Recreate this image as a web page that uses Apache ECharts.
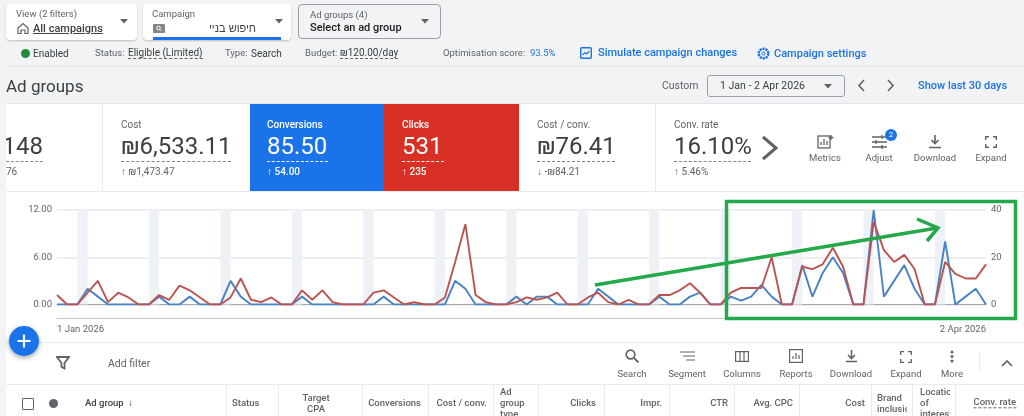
<!DOCTYPE html>
<html><head><meta charset="utf-8">
<style>
html,body{margin:0;padding:0;width:1024px;height:416px;overflow:hidden;background:#f1f3f4;font-family:Roboto,"Noto Sans",sans-serif;color:#3c4043}
.p{position:absolute}
.p svg{display:block}
.t{position:absolute;white-space:nowrap;transform:translateY(-50%);line-height:1.1}
#ui{position:absolute;left:0;top:0;width:1024px;height:416px;overflow:hidden;filter:blur(.35px)}
#chart{position:absolute;left:0;top:0;width:1024px;height:416px;filter:blur(.3px)}
</style></head><body>
<div id="ui"></div>
<div id="chart"></div>
<div id="fab" class="p" style="left:9px;top:326px;width:30px;height:30px;border-radius:50%;background:#1a73e8;box-shadow:0 2px 5px rgba(0,0,0,.35)">
<svg width="30" height="30"><path d="M15 8.5v13M8.5 15h13" stroke="#fff" stroke-width="2.2"/></svg></div>
<script src="https://cdn.jsdelivr.net/npm/echarts@6/dist/echarts.min.js"></script>
<script>
const categories = [
'1 Jan 2026','2 Jan 2026','3 Jan 2026','4 Jan 2026','5 Jan 2026','6 Jan 2026','7 Jan 2026','8 Jan 2026','9 Jan 2026','10 Jan 2026','11 Jan 2026','12 Jan 2026','13 Jan 2026','14 Jan 2026','15 Jan 2026','16 Jan 2026','17 Jan 2026','18 Jan 2026','19 Jan 2026','20 Jan 2026','21 Jan 2026','22 Jan 2026','23 Jan 2026','24 Jan 2026','25 Jan 2026','26 Jan 2026','27 Jan 2026','28 Jan 2026','29 Jan 2026','30 Jan 2026','31 Jan 2026',
'1 Feb 2026','2 Feb 2026','3 Feb 2026','4 Feb 2026','5 Feb 2026','6 Feb 2026','7 Feb 2026','8 Feb 2026','9 Feb 2026','10 Feb 2026','11 Feb 2026','12 Feb 2026','13 Feb 2026','14 Feb 2026','15 Feb 2026','16 Feb 2026','17 Feb 2026','18 Feb 2026','19 Feb 2026','20 Feb 2026','21 Feb 2026','22 Feb 2026','23 Feb 2026','24 Feb 2026','25 Feb 2026','26 Feb 2026','27 Feb 2026','28 Feb 2026',
'1 Mar 2026','2 Mar 2026','3 Mar 2026','4 Mar 2026','5 Mar 2026','6 Mar 2026','7 Mar 2026','8 Mar 2026','9 Mar 2026','10 Mar 2026','11 Mar 2026','12 Mar 2026','13 Mar 2026','14 Mar 2026','15 Mar 2026','16 Mar 2026','17 Mar 2026','18 Mar 2026','19 Mar 2026','20 Mar 2026','21 Mar 2026','22 Mar 2026','23 Mar 2026','24 Mar 2026','25 Mar 2026','26 Mar 2026','27 Mar 2026','28 Mar 2026','29 Mar 2026','30 Mar 2026','31 Mar 2026',
'1 Apr 2026','2 Apr 2026'];
const conversions = [0,0,0,2,1,0,0,0,0,0,1,0,0,1,0,0,0,3,1,0,0,0,0,0,1,0,0,0,0,0,0,0,1,0,0,0,0,0,0,3,2,0,0,0,0,1,0,1,1,0,0,0,0,2,1,0,0,0,0,1,0,0,1,1.5,0,0,1,0.5,1,2.5,1,0,0,5,1,4,6,4,0,0,12,1,3,5,2,0,0,8,0,1,2,0];
const clicks = [4,0,0,5,10,1,5,3,0,0,4,2,8,6,3,0,0,3,11,2,1,3,0,0,6,2,6,1,0,0,0,5,6,3,0,1,0,0,3,18,34,4,1,0,0,1,3,2,3,5,0,0,3,5,1,0,2,0,0,4,4,6,9,5,0,0,5,7,7,7,20,0,0,16,15,17,24,16,0,0,35,23,18,21,15,0,0,18,13,11,11,17];
const weekends = [['3 Jan 2026','4 Jan 2026'],['10 Jan 2026','11 Jan 2026'],['17 Jan 2026','18 Jan 2026'],['24 Jan 2026','25 Jan 2026'],['31 Jan 2026','1 Feb 2026'],['7 Feb 2026','8 Feb 2026'],['14 Feb 2026','15 Feb 2026'],['21 Feb 2026','22 Feb 2026'],['28 Feb 2026','1 Mar 2026'],['7 Mar 2026','8 Mar 2026'],['14 Mar 2026','15 Mar 2026'],['21 Mar 2026','22 Mar 2026'],['28 Mar 2026','29 Mar 2026']];

/* ---------- page chrome ---------- */
const ui = document.getElementById('ui');
function box(x,y,w,h,css){const d=document.createElement('div');d.className='p';d.style.cssText=`left:${x}px;top:${y}px;width:${w}px;height:${h}px;`+(css||'');ui.appendChild(d);return d;}
function t(x,y,s,size,color,css){const d=document.createElement('div');d.className='t';d.textContent=s;d.style.cssText=`left:${x}px;top:${y}px;font-size:${size}px;color:${color||'#5f6368'};`+(css||'');ui.appendChild(d);return d;}
function r(x,y,s,size,color,css){return t(x,y,s,size,color,'transform:translate(-100%,-50%);'+(css||''));}
function c(x,y,s,size,color,css){return t(x,y,s,size,color,'transform:translate(-50%,-50%);'+(css||''));}
function svg(x,y,w,h,inner){const d=document.createElement('div');d.className='p';d.style.cssText=`left:${x}px;top:${y}px;width:${w}px;height:${h}px`;d.innerHTML=`<svg width="${w}" height="${h}" viewBox="0 0 ${w} ${h}" fill="none">${inner}</svg>`;ui.appendChild(d);}
const caret=(x,y,col)=>svg(x-4,y-2,8,5,`<path d="M0 0h8L4 4.5z" fill="${col||'#5f6368'}"/>`);

const sh='background:#fff;border-radius:4px;box-shadow:0 1px 2px rgba(0,0,0,.22);';
box(6,4,131,36,sh); box(143,4,148,36,sh);
box(298,4,143,35,'border:1px solid #9aa0a6;border-radius:4px;box-sizing:border-box;background:#f1f3f4');
t(16,14,'View (2 filters)',9.5);
svg(17,22,12,12,'<path d="M1 6l5-4.5L11 6v5.5H8V8H4v3.5H1z" stroke="#5f6368" stroke-width="1.2"/>');
t(33,28.5,'All campaigns',11,'#3c4043','text-decoration:underline;font-weight:500');
caret(124,21);
t(152,14,'Campaign',9.5);
box(153,24,12,9,'background:#80868b;border-radius:1px');
svg(155,25,8,7,'<circle cx="3.5" cy="3" r="1.8" stroke="#fff" stroke-width="1"/><path d="M5 4.500l1.500 1.500" stroke="#fff" stroke-width="1"/>');
t(209,28,'חיפוש בניי',11,'#3c4043','font-family:"Liberation Sans",sans-serif;direction:rtl');
caret(279,21);
box(153,37,128,3,'background:#1a73e8');
t(310,15,'Ad groups (4)',9.5);
t(310,28,'Select an ad group',11,'#202124','font-weight:500');
caret(425,21);
box(21,48.5,9,9,'background:#1e8e3e;border-radius:50%');
t(33,53,'Enabled',10,'#3c4043');
t(95,53,'Status:',9.5); t(128,52.5,'Eligible (Limited)',10,'#3c4043','border-bottom:1px dashed #5f6368');
t(225,53,'Type:',9.5); t(251,53,'Search',10,'#3c4043');
t(305,53,'Budget:',9.5); t(340,53,'₪120.00/day',10,'#3c4043','border-bottom:1px dashed #5f6368');
t(443,53,'Optimisation score:',9.5); t(530,53,'93.5%',9.5,'#1a73e8');
svg(580,47,12,12,'<rect x=".7" y=".7" width="10.6" height="10.6" rx="1" stroke="#1a73e8" stroke-width="1.4"/><path d="M2.5 8l2.5-2.5L6.5 7 9.5 4" stroke="#1a73e8" stroke-width="1.2"/>');
t(598,53,'Simulate campaign changes',11,'#1a73e8','font-weight:500');
svg(757,47,13,13,'<circle cx="6.5" cy="6.5" r="4.8" stroke="#1a73e8" stroke-width="2.4" stroke-dasharray="2.2 .8"/><circle cx="6.5" cy="6.5" r="1.6" stroke="#1a73e8" stroke-width="1"/>');
t(774,54,'Campaign settings',11,'#1a73e8','font-weight:500');
box(6,66,1018,1,'background:#e2e4e7');
t(6,85.5,'Ad groups',17,'#3c4043');
t(662,86,'Custom',10.5);
box(707,75,138,22,'border:1px solid #9aa0a6;border-radius:3px;box-sizing:border-box');
t(720,86,'1 Jan - 2 Apr 2026',10.5,'#3c4043');
caret(828,86);
svg(857,79,9,13,'<path d="M7 1L2 6.5 7 12" stroke="#5f6368" stroke-width="1.6"/>');
svg(886,79,9,13,'<path d="M2 1l5 5.500L2 12" stroke="#5f6368" stroke-width="1.6"/>');
t(918,86,'Show last 30 days',11,'#1a73e8','font-weight:500');

/* cards */
box(6,104,1018,312,'background:#fff');
box(6,103,1018,1,'background:#e2e4e7');
box(6,191,1018,1,'background:#e8eaed');
box(102,104,1,87,'background:#e8eaed'); box(655,104,1,87,'background:#e8eaed');
box(250,104,134,87,'background:#1a73e8'); box(384,104,135,87,'background:#d93025');
const num=(x,y,s,col)=>t(x,y,s,24,col||'#3c4043');
const ul=(x,w,col)=>box(x,161,w,0,`border-top:1px dashed ${col||'#80868b'}`);
// the clipped first card
const clip=box(6,104,90,87,'overflow:hidden');
[['148',-3.5,42,24,'#3c4043'],['76',0,67,10,'#5f6368']].forEach(a=>{const d=document.createElement('div');d.className='t';d.textContent=a[0];d.style.cssText=`left:${a[1]}px;top:${a[2]}px;font-size:${a[3]}px;color:${a[4]}`;clip.appendChild(d);});
ul(6,37);
t(121,124,'Cost',10);num(121,146,'₪6,533.11');ul(121,110);t(121,171,'↑ ₪1,473.47',10);
t(267,124,'Conversions',10,'#fff','font-weight:500');num(267,146,'85.50','#fff');ul(267,61,'#fff');t(267,171,'↑ 54.00',10,'#fff','font-weight:500');
t(402,124,'Clicks',10,'#fff','font-weight:500');num(402,146,'531','#fff');ul(402,42,'#fff');t(402,171,'↑ 235',10,'#fff','font-weight:500');
t(537,124,'Cost / conv.',10);num(537,146,'₪76.41');ul(537,78);t(537,171,'↓ -₪84.21',10);
t(674,124,'Conv. rate',10);num(674,146,'16.10%');ul(674,77);t(674,171,'↑ 5.46%',10);
svg(760,135,20,26,'<path d="M3 2l13 11L3 24" stroke="#5f6368" stroke-width="3"/>');
const G='#5f6368';
svg(817,134,17,16,`<rect x="1" y="2" width="12" height="12" stroke="${G}" stroke-width="1.3"/><path d="M4 11V8M7 11V5M10 11V7M14 1v5M11.500 3.500h5" stroke="${G}" stroke-width="1.3"/>`);
c(825,158,'Metrics',9.5);
svg(871,134,17,16,`<path d="M1 3h15M1 8h15M1 13h15" stroke="${G}" stroke-width="1.3"/><path d="M11 1v4M5 6v4M11 11v4" stroke="${G}" stroke-width="1.3"/>`);
c(879,158,'Adjust',9.5);
box(885,129,12,12,'background:#1a73e8;border-radius:50%');c(891,135,'2',8,'#fff');
svg(928,134,14,15,`<path d="M7 1v8M3.500 6L7 9.500 10.500 6M1 13.500h12" stroke="${G}" stroke-width="1.6"/>`);
c(935,158,'Download',9.5);
svg(985,136,12,12,`<path d="M.7 4V.7H4M8 .7h3.300V4M11.300 8v3.300H8M4 11.300H.7V8" stroke="${G}" stroke-width="1.4"/>`);
c(991,158,'Expand',9.5);

/* toolbar and table head */
box(6,342,1018,1,'background:#e8eaed');
svg(56,356,14,14,`<path d="M1 1h12L8.500 7v5.500L5.500 11V7z" stroke="${G}" stroke-width="1.8"/>`);
t(108,364,'Add filter',10.5);
svg(625,349,14,14,`<circle cx="5.500" cy="5.500" r="4.300" stroke="${G}" stroke-width="1.7"/><path d="M9 9l4.500 4.500" stroke="${G}" stroke-width="1.8"/>`);
svg(680,351,15,10,`<path d="M0 1h15M3 5h12M6 9h9" stroke="${G}" stroke-width="1.2"/>`);
svg(735,351,14,11,`<rect x=".6" y=".6" width="12.800" height="9.800" stroke="${G}" stroke-width="1.2"/><path d="M5 1v9M9 1v9" stroke="${G}" stroke-width="1.2"/>`);
svg(789,349,14,14,`<rect x=".6" y=".6" width="12.800" height="12.800" stroke="${G}" stroke-width="1.2"/><path d="M4 10V7M7 10V4M10 10V6" stroke="${G}" stroke-width="1.2"/>`);
svg(845,349,13,14,`<path d="M6.500 1v8M3 6l3.500 3.500L10 6M1 12.500h11" stroke="${G}" stroke-width="1.6"/>`);
svg(900,351,12,12,`<path d="M.7 4V.7H4M8 .7h3.300V4M11.300 8v3.300H8M4 11.300H.7V8" stroke="${G}" stroke-width="1.3"/>`);
svg(950,350,4,13,`<circle cx="2" cy="2" r="1.500" fill="${G}"/><circle cx="2" cy="6.500" r="1.500" fill="${G}"/><circle cx="2" cy="11" r="1.500" fill="${G}"/>`);
[[632,'Search'],[687,'Segment'],[742,'Columns'],[796,'Reports'],[851,'Download'],[906,'Expand'],[952,'More']].forEach(a=>c(a[0],374,a[1],9.5));
box(979,352,1,20,'background:#e8eaed');
svg(1001,360,12,7,`<path d="M1 6l5-5 5 5" stroke="${G}" stroke-width="1.7"/>`);
box(6,384,1018,1,'background:#e8eaed');
[226,278,362,428,493,538,604,669,734,799,871,912,955].forEach(x=>box(x,385,1,31,'background:#e8eaed'));
box(22,398,10,10,'border:1px solid #5f6368;border-radius:1px');
box(48.500,399,9,9,'background:#5f6368;border-radius:50%');
const H='font-weight:500';
t(85,403,'Ad group  ↓',9.5,'#3c4043',H+';white-space:pre');
t(232,403,'Status',9.5,G,H);
c(316,398,'Target',9.5,G,H);c(316,409,'CPA',9.5,G,H);
r(421,403,'Conversions',9.5,G,H);r(487,403,'Cost / conv.',9.5,G,H);
t(500,392,'Ad',9.5,G,H);t(500,403,'group',9.5,G,H);t(500,414,'type',9.5,G,H);
r(596,403,'Clicks',9.5,G,H);r(662,403,'Impr.',9.5,G,H);r(728,403,'CTR',9.5,G,H);r(793,403,'Avg. CPC',9.5,G,H);r(865,403,'Cost',9.5,G,H);
const clipB=box(877,387,30,29,'overflow:hidden');
[['Brand',11],['inclusion',22]].forEach(a=>{const d=document.createElement('div');d.className='t';d.textContent=a[0];d.style.cssText=`left:0;top:${a[1]}px;font-size:9.5px;color:${G};font-weight:500`;clipB.appendChild(d);});
const clipL=box(920,385,30,31,'overflow:hidden');
[['Location',7],['of',18],['interest',29]].forEach(a=>{const d=document.createElement('div');d.className='t';d.textContent=a[0];d.style.cssText=`left:0;top:${a[1]}px;font-size:9.5px;color:${G};font-weight:500`;clipL.appendChild(d);});
r(1016,403,'Conv. rate',9.5,G,H+';border-bottom:1px dashed #5f6368');

/* ---------- chart ---------- */
const chart = echarts.init(document.getElementById('chart'), null, {renderer:'canvas'});
const green='#25a84c';
chart.setOption({
  animation:false,
  grid:{left:57,right:38,top:210,bottom:111.5,containLabel:false},
  xAxis:[
    {type:'category',data:categories,boundaryGap:false,position:'bottom',
     axisLine:{onZero:false,lineStyle:{color:'#a5a9ae',width:1}},axisTick:{show:false},axisLabel:{show:false},splitLine:{show:false}},
    {type:'category',data:categories,boundaryGap:false,position:'bottom',offset:14,
     axisLine:{onZero:false,lineStyle:{color:'#c4c7cb',width:1}},axisTick:{show:false},
     axisLabel:{color:'#5f6368',fontSize:9.5,fontFamily:'Roboto',margin:6,showMinLabel:true,showMaxLabel:true,
       alignMinLabel:'left',alignMaxLabel:'right',
       interval:(i)=>i===0||i===categories.length-1},splitLine:{show:false}}
  ],
  yAxis:[
    {type:'value',min:0,max:12,interval:6,position:'left',axisLine:{show:false},axisTick:{show:false},
     axisLabel:{color:'#5f6368',fontSize:9.5,fontFamily:'Roboto',margin:5,formatter:v=>v.toFixed(2)},
     splitLine:{lineStyle:{color:'#e6e8eb',width:1.5}}},
    {type:'value',min:0,max:40,interval:20,position:'right',axisLine:{show:false},axisTick:{show:false},
     axisLabel:{color:'#5f6368',fontSize:9.5,fontFamily:'Roboto',margin:5},splitLine:{show:false}}
  ],
  series:[
    {name:'Conversions',type:'line',data:conversions,xAxisIndex:0,yAxisIndex:0,symbol:'none',z:3,
     lineStyle:{color:'#4a82c6',width:1.9},
     markArea:{silent:true,z:1,itemStyle:{color:'#eef1f5'},data:weekends.map(w=>[{xAxis:w[0]},{xAxis:w[1]}])}},
    {name:'Clicks',type:'line',data:clicks,xAxisIndex:0,yAxisIndex:1,symbol:'none',z:4,
     lineStyle:{color:'#bb5450',width:1.9}}
  ],
  graphic:[
    {type:'rect',z:100,shape:{x:726.5,y:201.5,width:289,height:117},style:{fill:null,stroke:green,lineWidth:3.5}},
    {type:'polyline',z:100,shape:{points:[[595,285],[937,228]]},style:{stroke:green,lineWidth:3.5,fill:null}},
    {type:'polyline',z:100,shape:{points:[[917,219],[938,228],[927,241]]},style:{stroke:green,lineWidth:3.5,fill:null}}
  ]
});
</script>
</body></html>
